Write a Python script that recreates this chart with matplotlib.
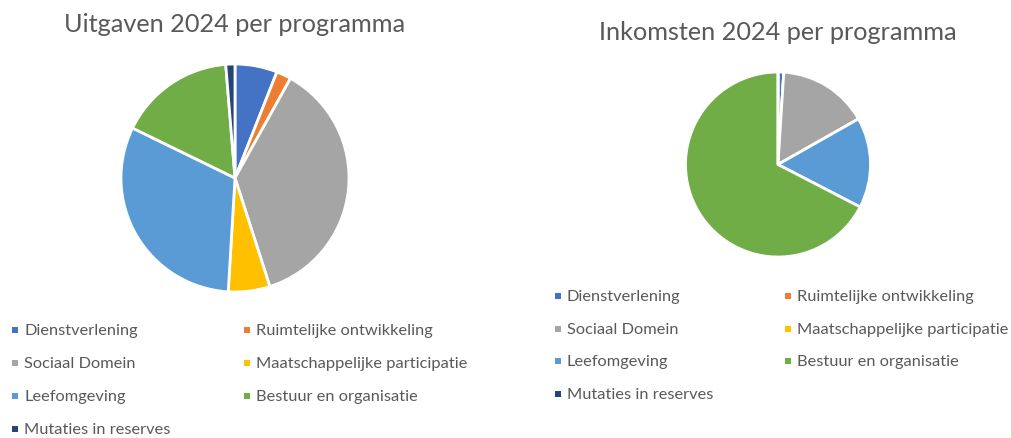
import matplotlib.pyplot as plt
from matplotlib.patches import Rectangle

# categories and colours (Office palette)
categories = ["Dienstverlening", "Ruimtelijke ontwikkeling", "Sociaal Domein",
              "Maatschappelijke participatie", "Leefomgeving",
              "Bestuur en organisatie", "Mutaties in reserves"]
colors = ["#4472C4", "#ED7D31", "#A5A5A5", "#FFC000", "#5B9BD5", "#70AD47", "#264478"]

# share per programme in percent
uitgaven = [6.0, 2.1, 37.0, 5.9, 31.3, 16.5, 1.3]
inkomsten = [1.0, 0.0, 15.8, 0.0, 15.8, 67.4, 0.0]

titles = ["Uitgaven 2024 per programma", "Inkomsten 2024 per programma"]

W, H = 1011, 439
plt.rcParams['font.family'] = ['Lato', 'DejaVu Sans']
fig = plt.figure(figsize=(W / 100, H / 100), dpi=100)


def px_axes(cx, cy, r):
    return fig.add_axes([(cx - r) / W, (H - cy - r) / H, 2 * r / W, 2 * r / H])


def draw_pie(values, cx, cy, r):
    ax = px_axes(cx, cy, r)
    wedges, _ = ax.pie(values, colors=colors, startangle=90, counterclock=False,
                       wedgeprops=dict(edgecolor="white", linewidth=2), radius=1.0)
    for w in wedges:
        w.set_clip_on(False)
    ax.set_xlim(-1, 1)
    ax.set_ylim(-1, 1)
    ax.set_aspect("equal")
    ax.axis("off")


def draw_legend(x0, x1, y0, dy):
    for i, (lab, col) in enumerate(zip(categories, colors)):
        x = x0 if i % 2 == 0 else x1
        y = y0 + (i // 2) * dy
        fig.patches.append(Rectangle(((x - 3) / W, (H - y - 3) / H), 6 / W, 6 / H,
                                     transform=fig.transFigure, color=col, lw=0))
        fig.text((x + 9) / W, (H - y) / H, lab, fontsize=11.8, color="#595959",
                 va="center", ha="left")


draw_pie(uitgaven, 235, 179, 114)
draw_pie(inkomsten, 778, 165.5, 92.5)

fig.text(235 / W, (H - 25) / H, titles[0], fontsize=18.2, color="#595959", ha="center", va="center")
fig.text(778 / W, (H - 33) / H, titles[1], fontsize=18.2, color="#595959", ha="center", va="center")

draw_legend(15, 247, 331, 33)
draw_legend(558, 788, 297, 32.7)

fig.savefig("out.png", dpi=100, facecolor="white")
